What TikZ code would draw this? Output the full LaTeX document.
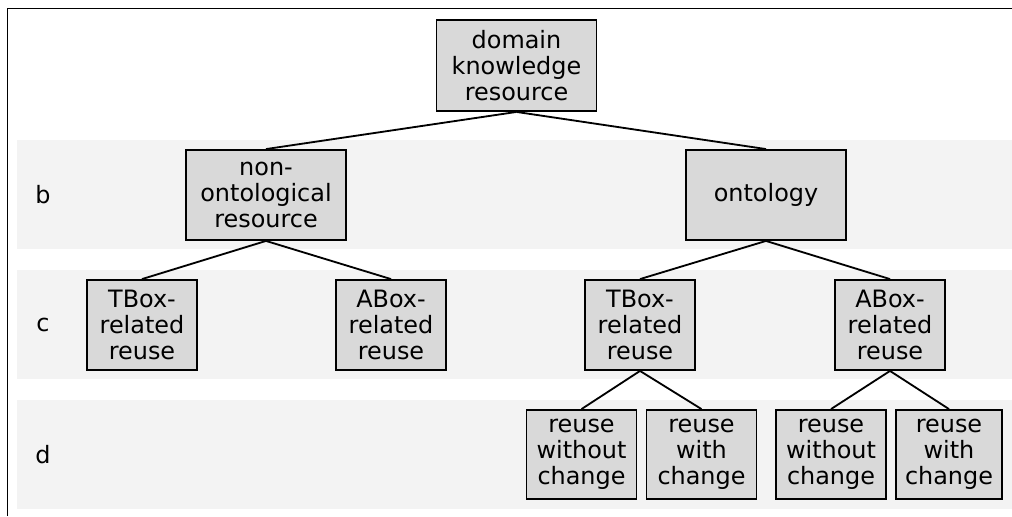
\documentclass[tikz,border=0pt]{standalone}
\usepackage{fontspec}
\setmainfont{DejaVu Sans}
\usepackage{tikz}
\usetikzlibrary{positioning}
\definecolor{boxgray}{HTML}{D9D9D9}
\definecolor{bandgray}{HTML}{F3F3F3}

\begin{document}
\begin{tikzpicture}[x=0.025cm, y=-0.025cm,
    every node/.style={font=\fontsize{17}{18.6}\selectfont},
    n/.style={rectangle, draw, fill=boxgray, line width=1.3pt, align=center, inner sep=0pt, minimum width=4cm, minimum height=2.25cm},
    s/.style={n, minimum width=2.75cm},
    band/.style={fill=bandgray, draw=none}]
        \useasboundingbox (0,0) rectangle (1012,516);

        \fill[band] (17,140) rectangle (1012,249);
        \fill[band] (17,270) rectangle (1012,379);
        \fill[band] (17,400) rectangle (1012,509);
        \draw[line width=1.3pt] (7.5,516) -- (7.5,8.5) -- (1012,8.5);

        \node (lb) at (43,195) {b};
        \node (lc) at (43,325) {c};
        \node (ld) at (43,455) {d};

        \node[n, minimum height=2.275cm] (root) at (516.5,65.5) {domain\\knowledge\\resource};
        \node[n] (nonont) at (266,195) {non-\\ontological\\resource};
        \node[n] (onto) at (766,195) {ontology};

        \node[s] (tboxa) at (142,325) {TBox-\\related\\reuse};
        \node[s] (aboxa) at (391,325) {ABox-\\related\\reuse};
        \node[s] (tboxb) at (640,325) {TBox-\\related\\reuse};
        \node[s] (aboxb) at (890,325) {ABox-\\related\\reuse};

        \node[s, minimum height=2.225cm] (wo1) at (581.5,454.5) {reuse\\without\\change};
        \node[s, minimum height=2.225cm] (wi1) at (701.5,454.5) {reuse\\with\\change};
        \node[s, minimum height=2.225cm] (wo2) at (831,454.5) {reuse\\without\\change};
        \node[s, minimum height=2.225cm, minimum width=2.65cm] (wi2) at (949,454.5) {reuse\\with\\change};

        \draw[line width=1.3pt] (root.south) -- (nonont.north);
        \draw[line width=1.3pt] (root.south) -- (onto.north);
        \draw[line width=1.3pt] (nonont.south) -- (tboxa.north);
        \draw[line width=1.3pt] (nonont.south) -- (aboxa.north);
        \draw[line width=1.3pt] (onto.south) -- (tboxb.north);
        \draw[line width=1.3pt] (onto.south) -- (aboxb.north);
        \draw[line width=1.3pt] (tboxb.south) -- (wo1.north);
        \draw[line width=1.3pt] (tboxb.south) -- (wi1.north);
        \draw[line width=1.3pt] (aboxb.south) -- (wo2.north);
        \draw[line width=1.3pt] (aboxb.south) -- (wi2.north);
    \end{tikzpicture}
\end{document}
